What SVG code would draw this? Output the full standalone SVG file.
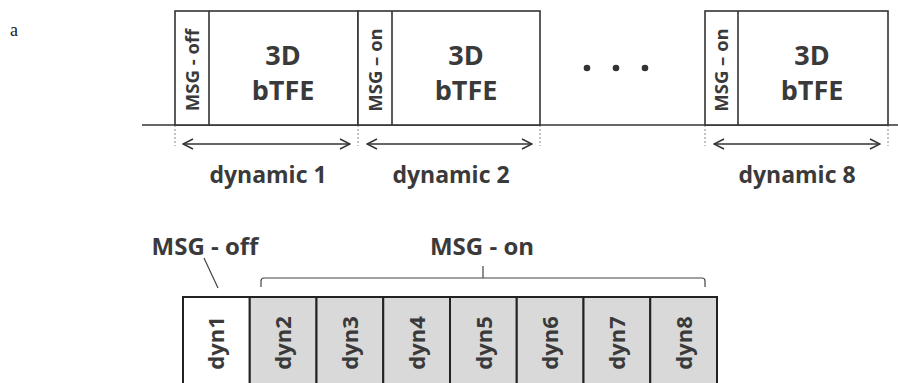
<svg xmlns="http://www.w3.org/2000/svg" width="898" height="383" viewBox="0 0 898 383">
  <defs>
    <marker id="arrow" viewBox="0 0 12 12" refX="11" refY="6" markerWidth="12" markerHeight="12" markerUnits="userSpaceOnUse" orient="auto-start-reverse">
      <path d="M1,1 L11,6 L1,11" fill="none" stroke="#333" stroke-width="1.5"/>
    </marker>
  </defs>
  <style>
    .box { fill: #fff; stroke: #333; stroke-width: 1.6; }
    .cell { fill: #d9d9d9; stroke: #222; stroke-width: 2; }
    .cell0 { fill: #fff; stroke: #222; stroke-width: 2; }
    .ln { stroke: #333; stroke-width: 1.6; fill: none; }
    .thin { stroke: #444; stroke-width: 1.2; fill: none; }
    .dot { stroke: #888; stroke-width: 1; stroke-dasharray: 2 2; }
    .t { font-family: "Open Sans", "Noto Sans", sans-serif; font-weight: bold; fill: #3a3a3a; }
    .big { font-size: 27px; }
    .msg { font-size: 18.5px; }
    .dyn { font-size: 23px; }
    .lbl { font-size: 24px; }
    .cl { font-size: 22px; }
  </style>

  <text x="10" y="36" font-family="Liberation Serif, serif" font-size="18" fill="#222">a</text>

  <!-- timeline axis and dynamic markers -->
  <g id="connectors">
    <line class="ln" x1="142" y1="125" x2="898" y2="125"/>
    <line class="dot" x1="175" y1="125" x2="175" y2="146"/>
    <line class="dot" x1="358" y1="125" x2="358" y2="146"/>
    <line class="dot" x1="540" y1="125" x2="540" y2="146"/>
    <line class="dot" x1="705" y1="125" x2="705" y2="146"/>
    <line class="dot" x1="888" y1="125" x2="888" y2="146"/>
    <line class="ln" x1="183" y1="144" x2="350" y2="144" marker-start="url(#arrow)" marker-end="url(#arrow)"/>
    <line class="ln" x1="367" y1="144" x2="532" y2="144" marker-start="url(#arrow)" marker-end="url(#arrow)"/>
    <line class="ln" x1="714" y1="144" x2="880" y2="144" marker-start="url(#arrow)" marker-end="url(#arrow)"/>
    <!-- callouts for the acquisition strip -->
    <line class="thin" x1="204" y1="258" x2="218" y2="288"/>
    <path class="thin" d="M261,287 L261,281 Q261,278 264,278 L702,278 Q705,278 705,281 L705,287"/>
    <line class="thin" x1="483" y1="266" x2="483" y2="278"/>
  </g>

  <!-- dynamic 1 -->
  <g id="dynamic1">
    <rect class="box" x="175" y="11" width="183" height="114"/>
    <line class="ln" x1="209" y1="11" x2="209" y2="125"/>
    <text class="t msg" transform="translate(199,70) rotate(-90)" text-anchor="middle">MSG - off</text>
    <text class="t big" x="283" y="65" text-anchor="middle">3D</text>
    <text class="t big" x="283" y="100" text-anchor="middle">bTFE</text>
    <text class="t dyn" x="268" y="183" text-anchor="middle">dynamic 1</text>
  </g>

  <!-- dynamic 2 -->
  <g id="dynamic2">
    <rect class="box" x="358" y="11" width="182" height="114"/>
    <line class="ln" x1="392" y1="11" x2="392" y2="125"/>
    <text class="t msg" transform="translate(382,70) rotate(-90)" text-anchor="middle">MSG – on</text>
    <text class="t big" x="466" y="65" text-anchor="middle">3D</text>
    <text class="t big" x="466" y="100" text-anchor="middle">bTFE</text>
    <text class="t dyn" x="451" y="183" text-anchor="middle">dynamic 2</text>
  </g>

  <g id="ellipsis" fill="#333">
    <circle cx="587" cy="68" r="3.3"/>
    <circle cx="616" cy="68" r="3.3"/>
    <circle cx="645" cy="68" r="3.3"/>
  </g>

  <!-- dynamic 8 -->
  <g id="dynamic8">
    <rect class="box" x="705" y="11" width="183" height="114"/>
    <line class="ln" x1="738" y1="11" x2="738" y2="125"/>
    <text class="t msg" transform="translate(728,70) rotate(-90)" text-anchor="middle">MSG – on</text>
    <text class="t big" x="812" y="65" text-anchor="middle">3D</text>
    <text class="t big" x="812" y="100" text-anchor="middle">bTFE</text>
    <text class="t dyn" x="797" y="183" text-anchor="middle">dynamic 8</text>
  </g>

  <!-- acquisition strip -->
  <g id="label-off"><text class="t lbl" x="205" y="255" text-anchor="middle">MSG - off</text></g>
  <g id="label-on"><text class="t lbl" x="482" y="255" text-anchor="middle">MSG - on</text></g>

  <g id="dyn1"><rect class="cell0" x="183" y="297" width="66.75" height="100"/><text class="t cl" transform="translate(224,343) rotate(-90)" text-anchor="middle">dyn1</text></g>
  <g id="dyn2"><rect class="cell" x="249.75" y="297" width="66.75" height="100"/><text class="t cl" transform="translate(291,343) rotate(-90)" text-anchor="middle">dyn2</text></g>
  <g id="dyn3"><rect class="cell" x="316.5" y="297" width="66.75" height="100"/><text class="t cl" transform="translate(358,343) rotate(-90)" text-anchor="middle">dyn3</text></g>
  <g id="dyn4"><rect class="cell" x="383.25" y="297" width="66.75" height="100"/><text class="t cl" transform="translate(425,343) rotate(-90)" text-anchor="middle">dyn4</text></g>
  <g id="dyn5"><rect class="cell" x="450" y="297" width="66.75" height="100"/><text class="t cl" transform="translate(491.5,343) rotate(-90)" text-anchor="middle">dyn5</text></g>
  <g id="dyn6"><rect class="cell" x="516.75" y="297" width="66.75" height="100"/><text class="t cl" transform="translate(558,343) rotate(-90)" text-anchor="middle">dyn6</text></g>
  <g id="dyn7"><rect class="cell" x="583.5" y="297" width="66.75" height="100"/><text class="t cl" transform="translate(625,343) rotate(-90)" text-anchor="middle">dyn7</text></g>
  <g id="dyn8"><rect class="cell" x="650.25" y="297" width="66.75" height="100"/><text class="t cl" transform="translate(692,343) rotate(-90)" text-anchor="middle">dyn8</text></g>
</svg>
